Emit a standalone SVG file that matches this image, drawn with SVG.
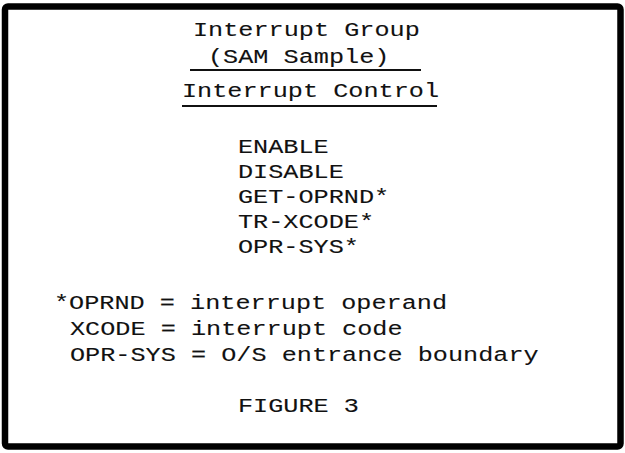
<svg xmlns="http://www.w3.org/2000/svg" width="625" height="453" viewBox="0 0 625 453">
  <style>
    .t { font-family: "Liberation Mono", "DejaVu Sans Mono", monospace; font-size: 21px; fill: #111; stroke: #111; stroke-width: 0.1px; }
    .ul { stroke: #111; stroke-width: 2; }
  </style>
  <rect x="0" y="0" width="625" height="453" fill="#fff"/>
  <g id="frame">
    <rect x="5" y="6.5" width="615.5" height="440" rx="3" fill="none" stroke="#000" stroke-width="6.5"/>
  </g>
  <g id="title">
    <text class="t" transform="translate(193,36) scale(1.2,1)">Interrupt Group</text>
    <text class="t" transform="translate(208,63) scale(1.2,1)">(SAM Sample)</text>
    <line class="ul" x1="190" y1="70" x2="421" y2="70"/>
  </g>
  <g id="interrupt-control">
    <text class="t" transform="translate(182,97) scale(1.2,1)">Interrupt Control</text>
    <line class="ul" x1="182" y1="106" x2="437" y2="106"/>
  </g>
  <g id="operations">
    <text class="t" transform="translate(238,153) scale(1.2,1)">ENABLE</text>
    <text class="t" transform="translate(238,178) scale(1.2,1)">DISABLE</text>
    <text class="t" transform="translate(238,203) scale(1.2,1)">GET-OPRND*</text>
    <text class="t" transform="translate(238,228) scale(1.2,1)">TR-XCODE*</text>
    <text class="t" transform="translate(238,253) scale(1.2,1)">OPR-SYS*</text>
  </g>
  <g id="legend">
    <text class="t" transform="translate(54,309) scale(1.2,1)">*OPRND = interrupt operand</text>
    <text class="t" transform="translate(70,335) scale(1.2,1)">XCODE = interrupt code</text>
    <text class="t" transform="translate(70,361) scale(1.2,1)">OPR-SYS = O/S entrance boundary</text>
  </g>
  <g id="caption">
    <text class="t" transform="translate(238,412) scale(1.2,1)">FIGURE 3</text>
  </g>
</svg>
